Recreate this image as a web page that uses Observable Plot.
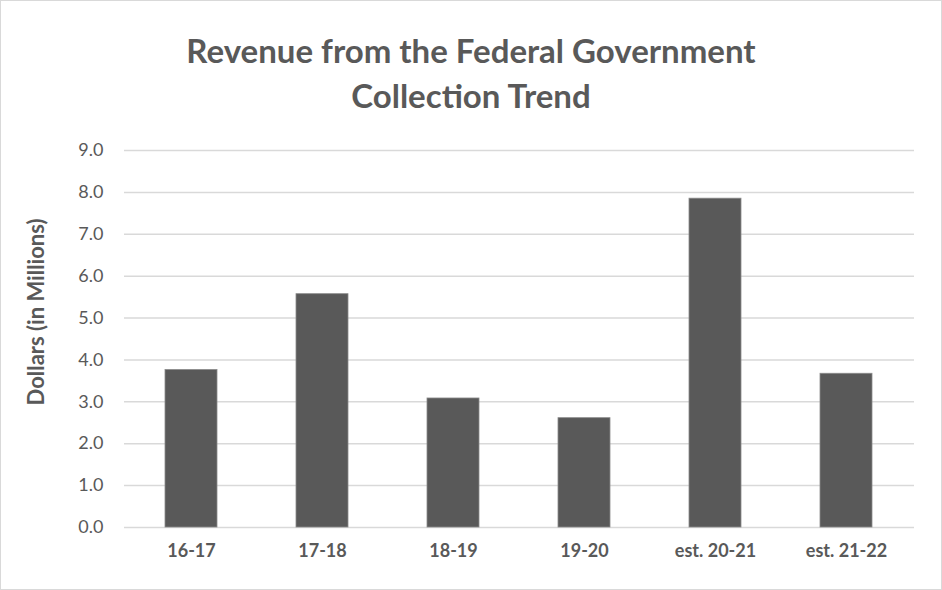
<!DOCTYPE html>
<html>
<head>
<meta charset="utf-8">
<script src="https://cdn.jsdelivr.net/npm/d3@7"></script>
<script src="https://cdn.jsdelivr.net/npm/@observablehq/plot@0.6"></script>
<style>
  html, body { margin: 0; padding: 0; background: #fff; }
  #frame {
    position: absolute; left: 0; top: 0;
    width: 940px; height: 588px;
    border: 1px solid #d9d9d9; background: #fff;
    font-family: Lato, "Open Sans", sans-serif;
  }
  #title {
    padding-top: 27px; height: 90px;
    text-align: center; font-size: 33px; font-weight: bold;
    line-height: 45px; color: #595959;
  }
  #chart svg { display: block; }
</style>
</head>
<body>
<div id="frame">
  <div id="title">Revenue from the Federal Government<br>Collection Trend</div>
  <div id="chart"></div>
</div>
<script>
const categories = ["16-17", "17-18", "18-19", "19-20", "est. 20-21", "est. 21-22"];
const values = [3.76, 5.57, 3.08, 2.61, 7.85, 3.67];
const yTicks = [0, 1, 2, 3, 4, 5, 6, 7, 8, 9];
const yLabel = "Dollars (in Millions)";

const data = categories.map((c, i) => ({category: c, value: values[i]}));

const chart = Plot.plot({
  width: 940,
  height: 470,
  marginTop: 32,
  marginBottom: 61,
  marginLeft: 123,
  marginRight: 27,
  style: {fontFamily: "Lato, 'Open Sans', sans-serif", color: "#595959", background: "#fff"},
  x: {domain: categories, paddingInner: 0.6, paddingOuter: 0.3, label: null},
  y: {domain: [0, 9], label: null},
  marks: [
    Plot.ruleY(yTicks, {stroke: "#d9d9d9", strokeWidth: 1.5}),
    Plot.barY(data, {x: "category", y: "value", fill: "#595959", stroke: "#8a8a8a", strokeWidth: 0.8}),
    Plot.axisY({ticks: yTicks, tickFormat: d3.format(".1f"), tickSize: 0, tickPadding: 21, fontSize: 18, fill: "#595959", label: null}),
    Plot.axisX({tickSize: 0, tickPadding: 17, fontSize: 18, fontWeight: "bold", fill: "#595959", label: null}),
    Plot.text([yLabel], {frameAnchor: "left", textAnchor: "middle", rotate: -90, dx: -88, dy: -27, fontSize: 22, fontWeight: "bold", fill: "#595959"})
  ]
});
document.getElementById("chart").appendChild(chart);
</script>
</body>
</html>
